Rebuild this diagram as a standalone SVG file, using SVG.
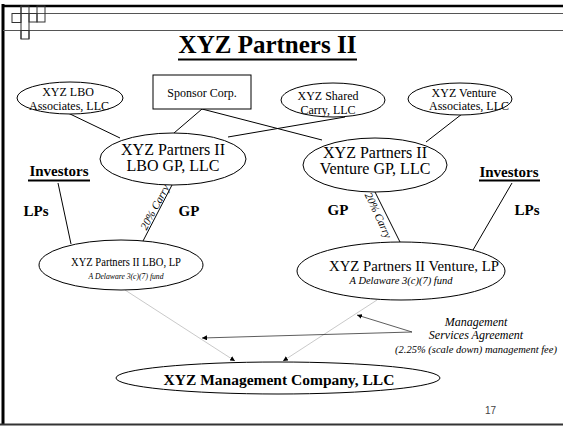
<svg xmlns="http://www.w3.org/2000/svg" width="563" height="426" viewBox="0 0 563 426">
<defs>
<marker id="ah" viewBox="0 0 10 10" refX="10" refY="5" markerWidth="5" markerHeight="5" orient="auto" markerUnits="userSpaceOnUse"><path d="M0,0 L10,5 L0,10 z" fill="#000"/></marker>
<style>
.n{fill:#fff;stroke:#000;stroke-width:1}
.t{font-family:"Liberation Serif","Times New Roman",serif;fill:#000;text-anchor:middle}
.b{font-weight:bold}
.i{font-style:italic}
.c{stroke:#000;stroke-width:1;fill:none}
.g{stroke:#bbb;stroke-width:0.8;fill:none}
.m{stroke:#333;stroke-width:0.8;fill:none}
</style>
</defs>
<rect width="563" height="426" fill="#fff"/>
<g id="frame">
<line x1="3" y1="4" x2="3" y2="424" stroke="#000" stroke-width="3"/>
<line x1="2" y1="6" x2="563" y2="6" stroke="#000" stroke-width="2.5"/>
<line x1="12" y1="13.5" x2="563" y2="13.5" stroke="#555" stroke-width="1"/>
<line x1="3" y1="30.5" x2="563" y2="30.5" stroke="#555" stroke-width="1"/>
<line x1="0" y1="424.5" x2="563" y2="424.5" stroke="#333" stroke-width="2"/>
<g stroke="#333" stroke-width="1" fill="none">
<rect x="12" y="13.5" width="9" height="9"/>
<rect x="21" y="6" width="8" height="7.5"/>
<rect x="21" y="30.5" width="8" height="8.5"/>
<line x1="21" y1="6" x2="21" y2="39"/>
<line x1="29" y1="13.5" x2="29" y2="39"/>
<rect x="29" y="13.5" width="8" height="8.5"/>
<rect x="37" y="6" width="8" height="16"/>
</g>
</g>
<g id="title">
<text class="t b" x="267.5" y="53" font-size="25">XYZ Partners II</text>
<line x1="178" y1="59.5" x2="357" y2="59.5" stroke="#000" stroke-width="2"/>
</g>
<g id="connectors">
<line class="c" x1="68" y1="113" x2="120" y2="138"/>
<line class="c" x1="202" y1="109" x2="174" y2="133"/>
<line class="c" x1="202" y1="109" x2="322" y2="140"/>
<line class="c" x1="345" y1="117" x2="228" y2="137"/>
<line class="c" x1="462" y1="114" x2="426" y2="142"/>
<line class="c" x1="58" y1="183" x2="71" y2="244"/>
<line class="c" x1="512" y1="183" x2="473" y2="250"/>
<line class="c" x1="172" y1="185" x2="143" y2="241"/>
<line class="c" x1="375" y1="192" x2="400" y2="242"/>
<line class="g" x1="125" y1="290" x2="235" y2="361" marker-end="url(#ah)"/>
<line class="g" x1="377" y1="300" x2="283" y2="361" marker-end="url(#ah)"/>
<line class="m" x1="412" y1="332" x2="202" y2="338" marker-end="url(#ah)"/>
<line class="m" x1="412" y1="332" x2="357" y2="315" marker-end="url(#ah)"/>
</g>
<g id="lbo-associates">
<ellipse class="n" cx="70" cy="98" rx="53" ry="16"/>
<text class="t" x="68" y="96" font-size="12">XYZ LBO</text>
<text class="t" x="69" y="110" font-size="12">Associates, LLC</text>
</g>
<g id="sponsor">
<rect class="n" x="153" y="75" width="98" height="34"/>
<text class="t" x="202" y="97" font-size="12">Sponsor Corp.</text>
</g>
<g id="shared-carry">
<ellipse class="n" cx="333" cy="100" rx="52" ry="17"/>
<text class="t" x="328" y="100" font-size="12">XYZ Shared</text>
<text class="t" x="328" y="114" font-size="12">Carry, LLC</text>
</g>
<g id="venture-associates">
<ellipse class="n" cx="460" cy="99" rx="52" ry="16"/>
<text class="t" x="464" y="97" font-size="12">XYZ Venture</text>
<text class="t" x="469" y="110" font-size="12">Associates, LLC</text>
</g>
<g id="lbo-gp">
<ellipse class="n" cx="173" cy="159" rx="73" ry="26"/>
<text class="t" x="173" y="155" font-size="16">XYZ Partners II</text>
<text class="t" x="173" y="171" font-size="16">LBO GP, LLC</text>
</g>
<g id="venture-gp">
<ellipse class="n" cx="375" cy="165" rx="72" ry="27"/>
<text class="t" x="375" y="158" font-size="16">XYZ Partners II</text>
<text class="t" x="375" y="174" font-size="16">Venture GP, LLC</text>
</g>
<g id="labels">
<text class="t b" x="59" y="176" font-size="15">Investors</text>
<line x1="28" y1="180.5" x2="90" y2="180.5" stroke="#000" stroke-width="2"/>
<text class="t b" x="509" y="177" font-size="15">Investors</text>
<line x1="479" y1="180.5" x2="540" y2="180.5" stroke="#000" stroke-width="2"/>
<text class="t b" x="36" y="216" font-size="15">LPs</text>
<text class="t b" x="189" y="216" font-size="15">GP</text>
<text class="t b" x="338" y="215" font-size="15">GP</text>
<text class="t b" x="527" y="215" font-size="15">LPs</text>
<text class="t i" x="158" y="209" font-size="11" transform="rotate(-62 158 209)">20% Carry</text>
<text class="t i" x="375" y="217" font-size="11" transform="rotate(65 375 217)">20% Carry</text>
</g>
<g id="lbo-lp">
<ellipse class="n" cx="121" cy="265" rx="82" ry="25"/>
<text class="t" x="126" y="266" font-size="12" textLength="110" lengthAdjust="spacingAndGlyphs">XYZ Partners II LBO, LP</text>
<text class="t i" x="126" y="279" font-size="8.5" textLength="75" lengthAdjust="spacingAndGlyphs">A Delaware 3(c)(7) fund</text>
</g>
<g id="venture-lp">
<ellipse class="n" cx="401" cy="271" rx="104" ry="29"/>
<text class="t" x="414" y="271" font-size="14" textLength="170" lengthAdjust="spacingAndGlyphs">XYZ Partners II Venture, LP</text>
<text class="t i" x="401" y="284" font-size="10.5">A Delaware 3(c)(7) fund</text>
</g>
<g id="management">
<ellipse class="n" cx="278" cy="378" rx="162" ry="16" stroke-width="1.5"/>
<text class="t b" x="279" y="385" font-size="15.5">XYZ Management Company, LLC</text>
</g>
<g id="msa-label">
<text class="t i" x="476" y="326" font-size="12">Management</text>
<text class="t i" x="476" y="339" font-size="12">Services Agreement</text>
<text class="t i" x="476" y="353" font-size="10.5">(2.25% (scale down) management fee)</text>
</g>
<text x="485" y="414" font-family="Liberation Sans, Arial, sans-serif" font-size="10" fill="#444">17</text>
</svg>
